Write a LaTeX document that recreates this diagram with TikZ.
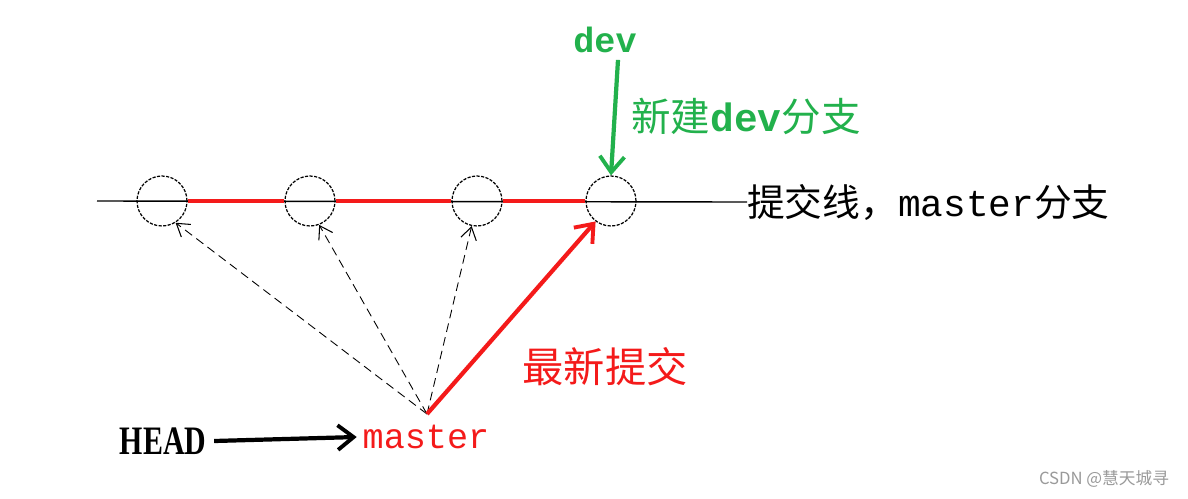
\documentclass[tikz,border=0pt]{standalone}
\usepackage{fontspec}
\setmainfont{Liberation Serif}
\setmonofont{Liberation Mono}
\newfontfamily\cjk{Noto Sans CJK SC}
\newfontfamily\cjksans{Noto Sans CJK SC}
\usetikzlibrary{arrows.meta}
\definecolor{pred}{HTML}{F41A1A}
\definecolor{pgreen}{HTML}{22B14C}
\definecolor{wm}{HTML}{9A9A9A}
\tikzset{
  commit/.style={draw=black, dashed, dash pattern=on 1.8pt off 0.8pt, line width=0.7pt, circle, minimum size=1cm, inner sep=0pt},
  baseline/.style={draw=black, line width=0.8pt},
  redline/.style={draw=pred, line width=2.4pt},
  ptr/.style={dashed, dash pattern=on 5pt off 3pt, line width=0.5pt, -{Straight Barb[length=7pt, width=9pt, line width=0.6pt]}},
  bigarrow/.style={line width=2.4pt, -{Straight Barb[length=9pt, width=14pt, line width=2.2pt]}},
  lbl/.style={inner sep=0pt, outer sep=0pt}
}
\begin{document}
\begin{tikzpicture}[x=0.02cm, y=-0.02cm]
\useasboundingbox[fill=white] (0,0) rectangle (1188,498);
% commits
\node[commit] (c1) at (162,201) {};
\node[commit] (c2) at (310,201) {};
\node[commit] (c3) at (477,201) {};
\node[commit] (c4) at (611,201) {};
\coordinate (L) at (97,201);
\node[lbl, anchor=west, font=\fontsize{21.5pt}{23pt}\selectfont] (line) at (747,202) {{\cjk 提交线，}\texttt{master}{\cjk 分支}};
% base commit line
\draw[baseline] (L) -- (line.west);
\draw[redline] (c1.east) -- (c2.west);
\draw[redline] (c2.east) -- (c3.west);
\draw[redline] (c3.east) -- (c4.west);
% dev branch
\node[lbl, text=pgreen, font=\ttfamily\bfseries\fontsize{20pt}{22pt}\selectfont] (dev) at (605,40) {dev};
\node[lbl, text=pgreen, font=\fontsize{22.5pt}{24pt}\selectfont] (newdev) at (746,116) {{\cjk 新建}\texttt{\bfseries dev}{\cjk 分支}};
\draw[bigarrow, draw=pgreen] ([xshift=13*0.02cm, yshift=-7*0.02cm]dev.south) -- (c4.north);
% HEAD and master
\node[lbl, font=\bfseries\fontsize{23pt}{25pt}\selectfont] (head) at (163,441) {\scalebox{0.74}[1]{HEAD}};
\node[lbl, text=pred, font=\ttfamily\fontsize{20pt}{22pt}\selectfont] (master) at (426,437) {master};
\draw[bigarrow, draw=black] ([xshift=8*0.02cm]head.east) -- ([xshift=-6*0.02cm]master.west);
\coordinate (apex) at (427,414);
% pointers to earlier commits
\draw[ptr] (apex) -- (c1.302);
\draw[ptr] (apex) -- (c2.291);
\draw[ptr] (apex) -- (c3.258);
\draw[bigarrow, draw=pred] (apex) -- (c4.233);
\node[lbl, text=pred, font=\fontsize{23.5pt}{25pt}\selectfont] (latest) at (605,367) {\cjk 最新提交};
% watermark
\node[lbl, text=wm, font=\fontsize{9.5pt}{11pt}\selectfont] (wmk) at (1104,479) {\cjksans CSDN @慧天城寻};
\end{tikzpicture}
\end{document}
